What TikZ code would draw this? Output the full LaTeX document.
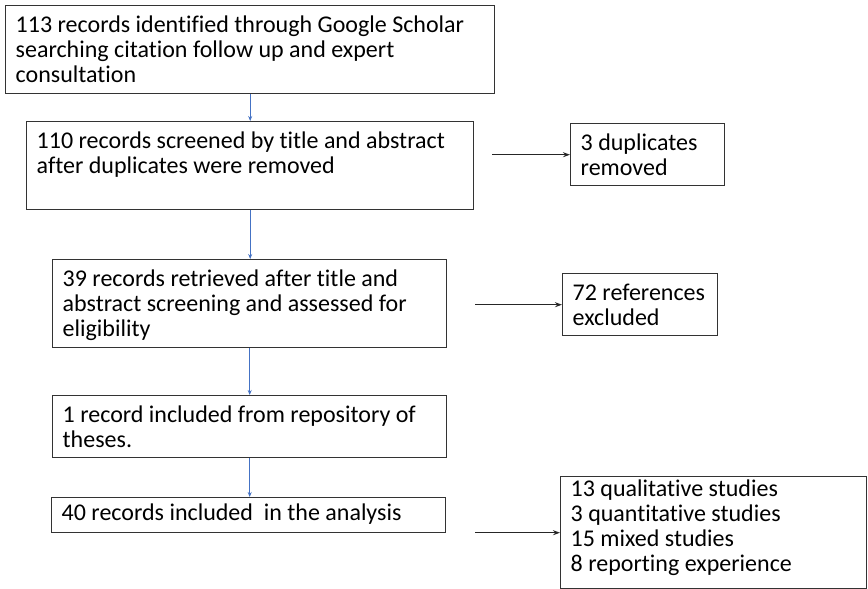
\documentclass[tikz,border=0pt]{standalone}
\usepackage{fontspec}
\setmainfont{Carlito}[Ligatures=NoCommon]
\usepackage{xcolor}
\usepackage{tikz}
\usetikzlibrary{arrows.meta}
\definecolor{flowblue}{RGB}{68,114,196}
\newcommand{\boxtext}[3]{\parbox[t][#2][t]{#1}{\strut #3}}
\tikzset{
    stage/.style={draw=black!80, line width=1.4pt, anchor=north west, inner xsep=10pt, inner ysep=9pt, align=left, font=\fontsize{24}{25}\selectfont},
    flow/.style={-{Stealth[length=5pt,width=4pt]}, draw=flowblue, line width=1pt},
    side/.style={-{Stealth[length=7pt,width=5pt]}, draw=black!85, line width=1.4pt}
}

\begin{document}
\begin{tikzpicture}[x=1pt,y=-1pt]
    \useasboundingbox (0,0) rectangle (868,589);
    \node[stage] (found) at (5,5) {\boxtext{469pt}{70pt}{113 records identified through Google Scholar\\searching citation follow up and expert\\consultation}};
    \node[stage] (screened) at (26,121) {\boxtext{427pt}{70pt}{110 records screened by title and abstract\\after duplicates were removed}};
    \draw[flow] (found.south) -- (found.south |- screened.north);
    \node[stage] (dups) at (570,123) {\boxtext{134pt}{44pt}{3 duplicates\\removed}};
    \draw[side] ([xshift=18pt]screened.east |- dups.west) -- (dups.west);
    \node[stage] (retrieved) at (52,259) {\boxtext{374pt}{70pt}{39 records retrieved after title and\\abstract screening and assessed for\\eligibility}};
    \draw[flow] (screened.south) -- (screened.south |- retrieved.north);
    \node[stage] (excluded) at (562,273) {\boxtext{135pt}{44pt}{72 references\\excluded}};
    \draw[side] ([xshift=28pt]retrieved.east |- excluded.west) -- (excluded.west);
    \node[stage] (theses) at (52,395) {\boxtext{374pt}{44pt}{1 record included from repository of\\theses.}};
    \draw[flow] (retrieved.south) -- (retrieved.south |- theses.north);
    \node[stage, inner ysep=5pt] (analysis) at (51,497) {\boxtext{374pt}{25pt}{40 records included\ \ in the analysis}};
    \draw[flow] (theses.south) -- (theses.south |- analysis.north);
    \node[stage, inner ysep=2pt] (studies) at (560,476) {\boxtext{286pt}{108pt}{13 qualitative studies\\3 quantitative studies\\15 mixed studies\\8 reporting experience}};
    \draw[side] ([xshift=29pt]analysis.east |- studies.west) -- (studies.west);
\end{tikzpicture}
\end{document}
